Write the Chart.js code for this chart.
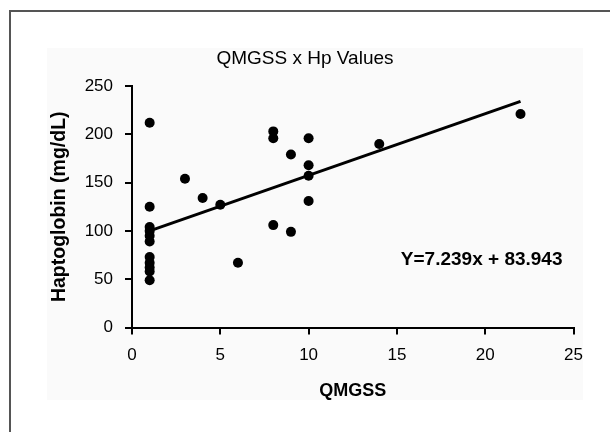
<!DOCTYPE html>
<html>
<head>
<meta charset="utf-8">
<script src="https://cdn.jsdelivr.net/npm/chart.js@4/dist/chart.umd.min.js"></script>
<style>
  html, body { margin: 0; padding: 0; background: #ffffff; }
  #wrap { width: 610px; height: 432px; position: relative; }
</style>
</head>
<body>
<div id="wrap"><canvas id="c" width="610" height="432"></canvas></div>
<script>
// ---- data ----
const qmgss = [1, 1, 1, 1, 1, 1, 1, 1, 1, 1, 1, 3, 4, 5, 6, 8, 8, 8, 9, 9, 10, 10, 10, 10, 14, 22];
const hpValues = [212, 125, 104, 100, 95, 89, 73, 67, 62, 58, 49, 154, 134, 127, 67, 203, 196, 106, 179, 99, 196, 168, 157, 131, 190, 221];
const trendX = [1, 22];
const trendY = [100, 234];
const xTicks = [0, 5, 10, 15, 20, 25];
const yTicks = [0, 50, 100, 150, 200, 250];
const chartTitle = 'QMGSS x Hp Values';
const xTitle = 'QMGSS';
const yTitle = 'Haptoglobin (mg/dL)';
const equationText = 'Y=7.239x + 83.943';

const FONT = '"Liberation Sans", Arial, Helvetica, sans-serif';

const points = qmgss.map((x, i) => ({ x: x, y: hpValues[i] }));
const trend = trendX.map((x, i) => ({ x: x, y: trendY[i] }));

const framePlugin = {
  id: 'frame',
  beforeDraw(chart) {
    const ctx = chart.ctx;
    ctx.save();
    ctx.fillStyle = '#ffffff';
    ctx.fillRect(0, 0, chart.width, chart.height);
    ctx.fillStyle = '#fafafa';
    ctx.fillRect(47, 48, 536, 352);
    ctx.strokeStyle = '#555555';
    ctx.lineWidth = 2;
    ctx.beginPath();
    ctx.moveTo(10, chart.height);
    ctx.lineTo(10, 11);
    ctx.lineTo(chart.width, 11);
    ctx.stroke();
    // chart title, centred on the page
    ctx.font = '19px ' + FONT;
    ctx.fillStyle = '#000000';
    ctx.textAlign = 'center';
    ctx.textBaseline = 'middle';
    ctx.fillText(chartTitle, chart.width / 2, 59);
    ctx.restore();
  },
  afterDatasetsDraw(chart) {
    const ctx = chart.ctx;
    const xs = chart.scales.x, ys = chart.scales.y;
    ctx.save();
    ctx.font = 'bold 19px ' + FONT;
    ctx.fillStyle = '#000000';
    ctx.textAlign = 'center';
    ctx.textBaseline = 'middle';
    ctx.fillText(equationText, xs.getPixelForValue(19.8), ys.getPixelForValue(70));
    ctx.restore();
  }
};

new Chart(document.getElementById('c'), {
  type: 'scatter',
  data: {
    datasets: [
      {
        type: 'scatter',
        data: points,
        backgroundColor: '#000000',
        borderColor: '#000000',
        pointRadius: 5,
        pointHoverRadius: 5,
        borderWidth: 0
      },
      {
        type: 'line',
        data: trend,
        borderColor: '#000000',
        borderWidth: 3,
        pointRadius: 0,
        fill: false,
        tension: 0
      }
    ]
  },
  options: {
    responsive: false,
    animation: false,
    events: [],
    layout: { padding: { left: 0, right: 36.5, top: 86, bottom: 0 } },
    plugins: {
      legend: { display: false },
      tooltip: { enabled: false },
      title: { display: false }
    },
    scales: {
      x: {
        type: 'linear',
        min: 0, max: 25,
        afterBuildTicks(scale) { scale.ticks = xTicks.map(v => ({ value: v })); },
        afterFit(scale) { scale.height = 104.5; },
        border: { display: true, color: '#000000', width: 2 },
        grid: { drawOnChartArea: false, color: '#000000', lineWidth: 2, tickLength: 7 },
        ticks: { color: '#000000', font: { family: FONT, size: 17 }, padding: 11, maxRotation: 0 },
        title: {
          display: true, text: xTitle, color: '#000000',
          font: { family: FONT, size: 18, weight: 'bold' },
          padding: { top: 0, bottom: 30 }
        }
      },
      y: {
        type: 'linear',
        min: 0, max: 250,
        afterBuildTicks(scale) { scale.ticks = yTicks.map(v => ({ value: v })); },
        afterFit(scale) { scale.width = 132; },
        border: { display: true, color: '#000000', width: 2 },
        grid: { drawOnChartArea: false, color: '#000000', lineWidth: 2, tickLength: 7 },
        ticks: { color: '#000000', font: { family: FONT, size: 17 }, padding: 12 },
        title: {
          display: true, text: yTitle, color: '#000000',
          font: { family: FONT, size: 19.5, weight: 'bold' },
          padding: { top: 48, bottom: 0 }
        }
      }
    }
  },
  plugins: [framePlugin]
});
</script>
</body>
</html>
